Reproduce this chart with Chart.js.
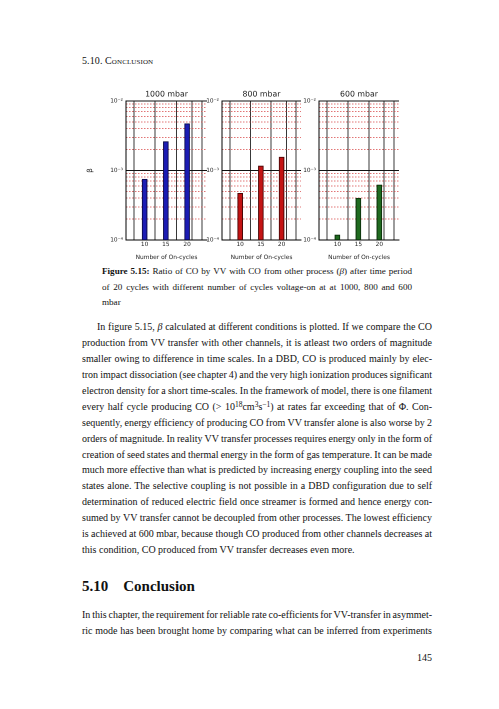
<!DOCTYPE html>
<html>
<head>
<meta charset="utf-8">
<script src="https://cdn.jsdelivr.net/npm/chart.js@4.4.0/dist/chart.umd.min.js"></script>
<style>
  html, body { margin: 0; padding: 0; background: #fff; }
  body { width: 499px; height: 709px; position: relative; overflow: hidden; font-family: "Liberation Serif", "Times New Roman", serif; color: #111; }
  .abs { position: absolute; }
  canvas { position: absolute; }
  #header { left: 82px; top: 55px; font-size: 10px; font-variant: small-caps; letter-spacing: 0.1px; }
  #caption { left: 102px; top: 264px; width: 310px; font-size: 9.1px; line-height: 15.5px; }
  .body-text { left: 82px; width: 350px; font-size: 10px; line-height: 15.93px; }
  .ln { white-space: nowrap; }
  .indent { text-indent: 15px; }
  #text1 { top: 319px; }
  #heading { left: 82px; top: 578px; font-size: 15px; font-weight: bold; }
  #heading span { margin-left: 15px; }
  #text2 { top: 607px; }
  #pagenum { left: 382px; width: 50px; top: 652px; text-align: right; font-size: 10px; }
  sup { font-size: 75%; line-height: 0; vertical-align: 0.35em; }
</style>
</head>
<body>
<div id="header" class="abs">5.10. Conclusion</div>

<canvas id="chart1000" width="126" height="175" style="left:86px;top:86px;width:126px;height:175px"></canvas>
<canvas id="chart800" width="102" height="175" style="left:204px;top:86px;width:102px;height:175px"></canvas>
<canvas id="chart600" width="103" height="175" style="left:301px;top:86px;width:103px;height:175px"></canvas>

<div id="caption" class="abs">
  <div class="ln"><b>Figure 5.15:</b> Ratio of CO by VV with CO from other process (<i>β</i>) after time period</div>
  <div class="ln">of 20 cycles with different number of cycles voltage-on at at 1000, 800 and 600</div>
  <div class="ln last">mbar</div>
</div>

<div id="text1" class="abs body-text">
  <div class="ln indent">In figure 5.15, <i>β</i> calculated at different conditions is plotted. If we compare the CO</div>
  <div class="ln">production from VV transfer with other channels, it is atleast two orders of magnitude</div>
  <div class="ln">smaller owing to difference in time scales. In a DBD, CO is produced mainly by elec-</div>
  <div class="ln">tron impact dissociation (see chapter 4) and the very high ionization produces significant</div>
  <div class="ln">electron density for a short time-scales. In the framework of model, there is one filament</div>
  <div class="ln">every half cycle producing CO (&gt; 10<sup>18</sup>cm<sup>3</sup>s<sup>−1</sup>) at rates far exceeding that of Φ. Con-</div>
  <div class="ln">sequently, energy efficiency of producing CO from VV transfer alone is also worse by 2</div>
  <div class="ln">orders of magnitude. In reality VV transfer processes requires energy only in the form of</div>
  <div class="ln">creation of seed states and thermal energy in the form of gas temperature. It can be made</div>
  <div class="ln">much more effective than what is predicted by increasing energy coupling into the seed</div>
  <div class="ln">states alone. The selective coupling is not possible in a DBD configuration due to self</div>
  <div class="ln">determination of reduced electric field once streamer is formed and hence energy con-</div>
  <div class="ln">sumed by VV transfer cannot be decoupled from other processes. The lowest efficiency</div>
  <div class="ln">is achieved at 600 mbar, because though CO produced from other channels decreases at</div>
  <div class="ln last">this condition, CO produced from VV transfer decreases even more.</div>
</div>

<div id="heading" class="abs">5.10<span>Conclusion</span></div>

<div id="text2" class="abs body-text">
  <div class="ln">In this chapter, the requirement for reliable rate co-efficients for VV-transfer in asymmet-</div>
  <div class="ln">ric mode has been brought home by comparing what can be inferred from experiments</div>
</div>

<div id="pagenum" class="abs">145</div>

<script>
// data
const cycles = [10, 15, 20];
const beta1000 = [7.5e-4, 2.6e-3, 4.7e-3];
const beta800 = [4.7e-4, 1.16e-3, 1.56e-3];
const beta600 = [1.18e-4, 4.0e-4, 6.2e-4];
const pressureTitles = ["1000 mbar", "800 mbar", "600 mbar"];
const decades = [1e-4, 1e-3, 1e-2];
const minorSteps = [2, 3, 4, 5, 6, 7, 8, 9];
const xMin = 8;
const xMax = 22.3;

const superDigits = { "-": "⁻", "0": "⁰", "1": "¹", "2": "²", "3": "³", "4": "⁴", "5": "⁵", "6": "⁶", "7": "⁷", "8": "⁸", "9": "⁹" };

// spread each typeset line to the full column width
function justifyLines() {
  const lines = document.querySelectorAll(".ln");
  for (let i = 0; i < lines.length; i++) {
    const line = lines[i];
    if (line.classList.contains("last")) continue;
    const target = line.parentElement.clientWidth;
    line.style.display = "inline-block";
    const natural = line.getBoundingClientRect().width;
    line.style.display = "block";
    const spaces = line.textContent.trim().split(/\s+/).length - 1;
    if (spaces > 0) {
      line.style.wordSpacing = (target - natural) / spaces + "px";
    }
  }
}

function powerLabel(value) {
  const exp = Math.round(Math.log10(value));
  let sup = "";
  for (const ch of String(exp)) {
    sup += superDigits[ch];
  }
  return "10" + sup;
}

function minorTicks() {
  const ticks = [];
  for (let i = 0; i < decades.length - 1; i++) {
    for (let j = 0; j < minorSteps.length; j++) {
      ticks.push({ value: decades[i] * minorSteps[j] });
    }
  }
  return ticks;
}

function renderPanel(canvasId, title, values, fill, edge, axisWidth, showLabel) {
  const ctx = document.getElementById(canvasId);
  const data = {
    datasets: [
      {
        label: title,
        data: cycles.map((c, i) => ({ x: c, y: values[i] })),
        backgroundColor: fill,
        borderColor: edge,
        borderWidth: 1,
        borderSkipped: false,
        barThickness: 5,
      },
    ],
  };
  const config = {
    type: "bar",
    data: data,
    options: {
      responsive: false,
      animation: false,
      devicePixelRatio: 2,
      layout: { padding: { right: 5, top: 0, left: 0, bottom: 0 } },
      plugins: {
        legend: { display: false },
        tooltip: { enabled: false },
        title: {
          display: true,
          fullSize: false,
          text: title,
          color: "#222",
          font: { family: "DejaVu Sans", size: 7.8, weight: "normal", lineHeight: 1.2 },
          padding: { top: 4, bottom: 1.6 },
        },
      },
      scales: {
        x: {
          type: "linear",
          min: xMin,
          max: xMax,
          afterBuildTicks: (scale) => {
            scale.ticks = cycles.map((c) => ({ value: c })).concat([{ value: xMax }]);
          },
          afterFit: (scale) => {
            scale.height = 21;
          },
          ticks: {
            color: "#222",
            font: { family: "DejaVu Sans", size: 5.8 },
            padding: 1,
            maxRotation: 0,
            autoSkip: false,
            callback: (v) => (cycles.includes(v) ? String(v) : ""),
          },
          grid: { color: "#222", lineWidth: 0.9, drawTicks: false },
          border: { display: true, color: "#000", width: 1 },
          title: {
            display: true,
            text: "Number of On-cycles",
            color: "#222",
            font: { family: "DejaVu Sans", size: 5.9 },
            padding: { top: 0.5, bottom: 0 },
          },
        },
        yMinor: {
          type: "logarithmic",
          position: "left",
          min: decades[0],
          max: decades[decades.length - 1],
          afterBuildTicks: (scale) => {
            scale.ticks = minorTicks();
          },
          afterFit: (scale) => {
            scale.width = 0;
          },
          ticks: { display: false },
          grid: { color: "#d84848", lineWidth: 0.7, drawTicks: false },
          border: { display: false, dash: [1.5, 1.5] },
        },
        y: {
          type: "logarithmic",
          position: "left",
          min: decades[0],
          max: decades[decades.length - 1],
          afterBuildTicks: (scale) => {
            scale.ticks = decades.map((d) => ({ value: d }));
          },
          afterFit: (scale) => {
            scale.width = axisWidth;
          },
          ticks: {
            color: "#222",
            font: { family: "DejaVu Sans", size: 5.8 },
            padding: 3,
            autoSkip: false,
            callback: (v) => powerLabel(v),
          },
          grid: { color: "#111", lineWidth: 1, drawTicks: false },
          border: { display: true, color: "#000", width: 1 },
          title: {
            display: showLabel,
            text: "β",
            color: "#222",
            font: { family: "DejaVu Sans", size: 7 },
            padding: { top: 0, bottom: 0 },
          },
        },
      },
    },
  };
  new Chart(ctx, config);
}

justifyLines();
renderPanel("chart1000", pressureTitles[0], beta1000, "#1c1cb4", "#0a0a4a", 40, true);
renderPanel("chart800", pressureTitles[1], beta800, "#c41414", "#4a0606", 18, false);
renderPanel("chart600", pressureTitles[2], beta600, "#1f6a1f", "#0a2e0a", 18, false);
</script>
</body>
</html>
